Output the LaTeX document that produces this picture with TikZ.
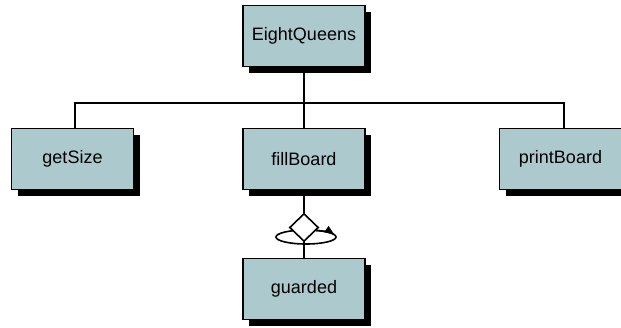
\documentclass[tikz,border=0pt]{standalone}
\usepackage{fontspec}
\setmainfont{Liberation Sans}
\usetikzlibrary{shapes.geometric,shadows,arrows.meta,calc}
\definecolor{boxfill}{RGB}{172,201,205}
\tikzset{
  x=1pt,y=1pt,
  modbox/.style={draw=black, line width=1.5pt, fill=boxfill, minimum width=122pt, minimum height=61pt,
    font=\fontsize{18}{21}\selectfont, inner sep=0pt,
    drop shadow={shadow xshift=6pt, shadow yshift=-6pt, fill=black, opacity=1}},
  conn/.style={line width=1.6pt},
  dia/.style={draw, diamond, line width=1.6pt, fill=white, minimum width=29pt, minimum height=28pt, inner sep=0pt, aspect=1}
}
\begin{document}
\begin{tikzpicture}
\useasboundingbox (0,0) rectangle (621,-327);
\node[modbox] (eq) at (304,-36) {EightQueens};
\node[modbox] (gs) at (72.5,-159) {getSize};
\node[modbox] (fb) at (304,-159) {fillBoard};
\node[modbox] (pb) at (560.5,-159) {printBoard};
\node[modbox] (gd) at (304,-289) {guarded};
\coordinate (bus) at (304,-103);
\draw[conn] (eq.south) -- (fb.north);
\draw[conn] ([xshift=2.5pt]gs.north) |- (bus) -| ([xshift=3.5pt]pb.north);
\draw[conn] (306,-237) ellipse [x radius=30, y radius=7];
\node[dia] (d) at (304,-227.5) {};
\draw[conn] (fb.south) -- (d.north);
\draw[conn] (d.south) -- (gd.north);
\draw[line width=1.6pt, -{Triangle[length=10pt,width=7pt]}] ($(306,-237)+(70:30 and 7)$) arc[start angle=70, end angle=18, x radius=30, y radius=7];
\end{tikzpicture}
\end{document}
